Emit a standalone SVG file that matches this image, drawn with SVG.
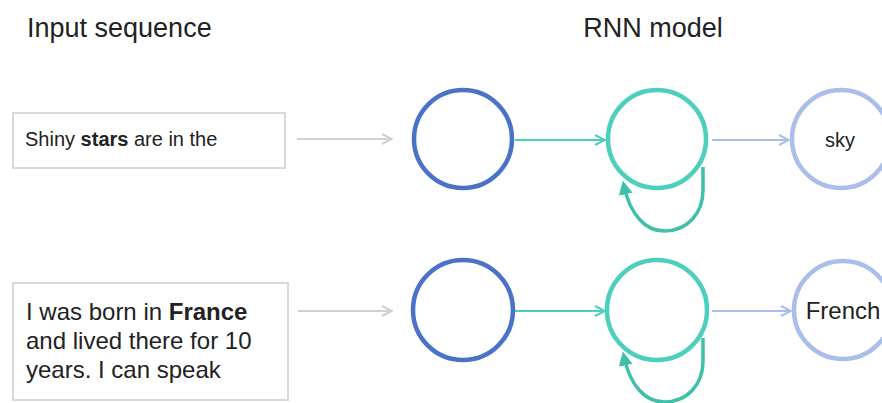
<svg xmlns="http://www.w3.org/2000/svg" width="882" height="403" viewBox="0 0 882 403">
  <defs>
    <style>
      text { font-family: "Liberation Sans", Arial, sans-serif; fill: #222; }
      .title { font-size: 27px; }
      .box { fill: #fff; stroke: #d9d9d9; stroke-width: 2; }
      .input { stroke: #4a72c8; }
      .hidden { stroke: #4ccfbd; }
      .output { stroke: #a9bee8; }
      .node { fill: #fff; stroke-width: 4.5; }
      .edge { fill: none; stroke-width: 2; }
      .loop { fill: none; stroke: #3fc0aa; stroke-width: 3.5; }
    </style>
    <marker id="head-gray" viewBox="0 0 12 12" refX="11" refY="6" markerWidth="12" markerHeight="12" markerUnits="userSpaceOnUse" orient="auto">
      <path d="M1 1 L11 6 L1 11" fill="none" stroke="#d0d0d0" stroke-width="2"/>
    </marker>
    <marker id="head-teal" viewBox="0 0 12 12" refX="11" refY="6" markerWidth="12" markerHeight="12" markerUnits="userSpaceOnUse" orient="auto">
      <path d="M1 1 L11 6 L1 11" fill="none" stroke="#4ccfbd" stroke-width="2"/>
    </marker>
    <marker id="head-blue" viewBox="0 0 12 12" refX="11" refY="6" markerWidth="12" markerHeight="12" markerUnits="userSpaceOnUse" orient="auto">
      <path d="M1 1 L11 6 L1 11" fill="none" stroke="#a9bee8" stroke-width="2"/>
    </marker>
    <marker id="head-loop" viewBox="0 0 10 10" refX="6" refY="5" markerWidth="14" markerHeight="14" markerUnits="userSpaceOnUse" orient="auto">
      <path d="M0 0 L10 5 L0 10 Z" fill="#3fc0aa"/>
    </marker>
  </defs>

  <rect width="882" height="403" fill="#fff"/>

  <text class="title" x="27" y="37">Input sequence</text>
  <text class="title" x="653" y="37" text-anchor="middle">RNN model</text>

  <!-- connectors -->
  <g id="connectors">
    <line class="edge" x1="297" y1="139" x2="392" y2="139" stroke="#d0d0d0" marker-end="url(#head-gray)"/>
    <line class="edge" x1="515" y1="140" x2="605" y2="140" stroke="#4ccfbd" marker-end="url(#head-teal)"/>
    <line class="edge" x1="712" y1="140" x2="789" y2="140" stroke="#a9bee8" marker-end="url(#head-blue)"/>
    <path class="loop" d="M703 167 L703 190 C703 214 687 231 664 231 C645 231 630 214 624 186" marker-end="url(#head-loop)"/>

    <line class="edge" x1="298" y1="311" x2="392" y2="311" stroke="#d0d0d0" marker-end="url(#head-gray)"/>
    <line class="edge" x1="515" y1="311" x2="605" y2="311" stroke="#4ccfbd" marker-end="url(#head-teal)"/>
    <line class="edge" x1="712" y1="311" x2="791" y2="311" stroke="#a9bee8" marker-end="url(#head-blue)"/>
    <path class="loop" d="M703 338 L703 361 C703 385 687 402 664 402 C645 402 630 385 624 357" marker-end="url(#head-loop)"/>
  </g>

  <!-- first sequence -->
  <g id="seq1-box">
    <rect class="box" x="13" y="113" width="272" height="55"/>
    <text x="25" y="146" font-size="20">Shiny <tspan font-weight="bold">stars</tspan> are in the</text>
  </g>
  <g id="seq1-input"><circle class="node input" cx="463" cy="139" r="49"/></g>
  <g id="seq1-hidden"><circle class="node hidden" cx="657" cy="139" r="49"/></g>
  <g id="seq1-output">
    <circle class="node output" cx="841" cy="139" r="49"/>
    <text x="840" y="147" font-size="20" text-anchor="middle">sky</text>
  </g>

  <!-- second sequence -->
  <g id="seq2-box">
    <rect class="box" x="13" y="283" width="275" height="117"/>
    <text x="26" y="320" font-size="24">I was born in <tspan font-weight="bold">France</tspan></text>
    <text x="26" y="349" font-size="24">and lived there for 10</text>
    <text x="26" y="378" font-size="24">years. I can speak</text>
  </g>
  <g id="seq2-input"><circle class="node input" cx="463" cy="310" r="50"/></g>
  <g id="seq2-hidden"><circle class="node hidden" cx="657" cy="310" r="50"/></g>
  <g id="seq2-output">
    <circle class="node output" cx="843" cy="310" r="49"/>
    <text x="843" y="319" font-size="24" text-anchor="middle">French</text>
  </g>
</svg>
